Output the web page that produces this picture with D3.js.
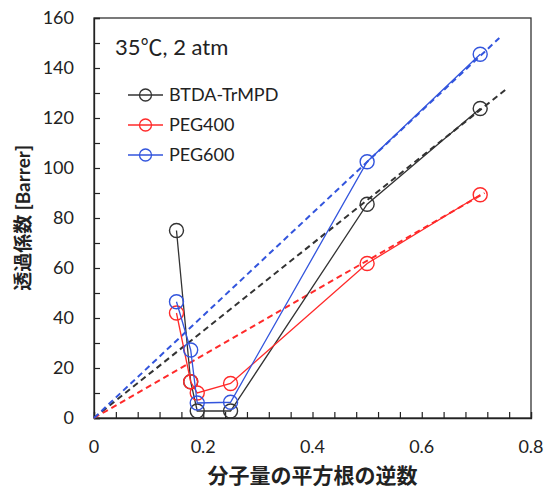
<!DOCTYPE html>
<html>
<head>
<meta charset="utf-8">
<script src="https://cdn.jsdelivr.net/npm/d3@7"></script>
<style>
  body { margin: 0; background: #fff; }
  text { font-family: Lato, "Noto Sans CJK JP", sans-serif; fill: #222; }
</style>
</head>
<body>
<div id="chart"></div>
<script>
// gas points: 1/sqrt(M) for CO2, O2, N2, CH4, He, H2
var gasX = [0.151, 0.177, 0.189, 0.25, 0.5, 0.707];

// permeability [Barrer] for each membrane
var btdaVals = [75, 14.5, 2.8, 2.8, 85.5, 123.8];
var peg400Vals = [42, 14.5, 10, 13.8, 61.8, 89.3];
var peg600Vals = [46.5, 27.2, 6, 6.3, 102.5, 145.5];

// dashed trend lines (start / end)
var btdaFitX = [0, 0.756], btdaFitY = [0, 131.8];
var peg400FitX = [0, 0.715], peg400FitY = [0, 90];
var peg600FitX = [0, 0.742], peg600FitY = [0, 152];

var seriesNames = ["BTDA-TrMPD", "PEG400", "PEG600"];
var seriesColors = ["#333333", "#ff2a2a", "#3355dd"];

var xTicks = [0, 0.2, 0.4, 0.6, 0.8];
var yTicks = [0, 20, 40, 60, 80, 100, 120, 140, 160];

var width = 546, height = 490;
var plotLeft = 94, plotRight = 531, plotTop = 18, plotBottom = 418;

var svg = d3.select("#chart").append("svg")
  .attr("width", width)
  .attr("height", height);

var xScale = d3.scaleLinear().domain([0, 0.8]).range([plotLeft, plotRight]);
var yScale = d3.scaleLinear().domain([0, 160]).range([plotBottom, plotTop]);

// frame
svg.append("rect")
  .attr("x", plotLeft).attr("y", plotTop)
  .attr("width", plotRight - plotLeft).attr("height", plotBottom - plotTop)
  .attr("fill", "none")
  .attr("stroke", "#333")
  .attr("stroke-width", 1.3);

// x axis: ticks every 0.04 pointing inward, labels every 0.2
var xAxis = d3.axisBottom(xScale)
  .tickValues(d3.range(0, 0.8001, 0.04))
  .tickSize(-6)
  .tickFormat("");
svg.append("g")
  .attr("transform", "translate(0," + plotBottom + ")")
  .call(xAxis)
  .call(function(g) {
    g.select(".domain").attr("stroke", "#222").attr("stroke-width", 1.3);
    g.selectAll(".tick line").attr("stroke", "#222").attr("stroke-width", 1.2);
  });

svg.append("g").selectAll("text")
  .data(xTicks).enter()
  .append("text")
  .attr("x", function(d) { return xScale(d); })
  .attr("y", 453)
  .attr("text-anchor", "middle")
  .attr("font-size", 18)
  .text(function(d) { return d === 0 ? "0" : d3.format(".1f")(d); });

// y axis: ticks every 10, labels every 20
var yAxis = d3.axisLeft(yScale)
  .tickValues(d3.range(0, 161, 10))
  .tickSize(-6)
  .tickFormat("");
svg.append("g")
  .attr("transform", "translate(" + plotLeft + ",0)")
  .call(yAxis)
  .call(function(g) {
    g.select(".domain").attr("stroke", "#222").attr("stroke-width", 1.3);
    g.selectAll(".tick line").attr("stroke", "#222").attr("stroke-width", 1.2);
  });

svg.append("g").selectAll("text")
  .data(yTicks).enter()
  .append("text")
  .attr("x", 74)
  .attr("y", function(d) { return yScale(d); })
  .attr("dy", "0.35em")
  .attr("text-anchor", "end")
  .attr("font-size", 18)
  .text(function(d) { return d; });

// axis titles
svg.append("text")
  .attr("x", (plotLeft + plotRight) / 2)
  .attr("y", 483)
  .attr("text-anchor", "middle")
  .attr("font-size", 21)
  .attr("font-weight", "bold")
  .text("分子量の平方根の逆数");

svg.append("text")
  .attr("transform", "translate(30," + ((plotTop + plotBottom) / 2) + ")rotate(-90)")
  .attr("text-anchor", "middle")
  .attr("font-size", 19)
  .attr("font-weight", "bold")
  .text("透過係数 [Barrer]");

// condition label
svg.append("text")
  .attr("x", 115)
  .attr("y", 55)
  .attr("font-size", 22)
  .text("35℃, 2 atm");

var line = d3.line()
  .x(function(d) { return xScale(d[0]); })
  .y(function(d) { return yScale(d[1]); });

var allVals = [btdaVals, peg400Vals, peg600Vals];
var fits = [[btdaFitX, btdaFitY], [peg400FitX, peg400FitY], [peg600FitX, peg600FitY]];

// dashed trend lines
fits.forEach(function(f, i) {
  svg.append("path")
    .datum(d3.zip(f[0], f[1]))
    .attr("d", line)
    .attr("fill", "none")
    .attr("stroke", seriesColors[i])
    .attr("stroke-width", 2)
    .attr("stroke-dasharray", "6,4");
});

// solid series with open circles
allVals.forEach(function(vals, i) {
  var pts = d3.zip(gasX, vals);
  svg.append("path")
    .datum(pts)
    .attr("d", line)
    .attr("fill", "none")
    .attr("stroke", seriesColors[i])
    .attr("stroke-width", 1.3);
  svg.append("g").selectAll("circle")
    .data(pts).enter()
    .append("circle")
    .attr("cx", function(d) { return xScale(d[0]); })
    .attr("cy", function(d) { return yScale(d[1]); })
    .attr("r", 7)
    .attr("fill", "none")
    .attr("stroke", seriesColors[i])
    .attr("stroke-width", 1.4);
});

// legend
var legend = svg.append("g");
seriesNames.forEach(function(name, i) {
  var ly = 95 + i * 30;
  legend.append("line")
    .attr("x1", 128).attr("x2", 163)
    .attr("y1", ly).attr("y2", ly)
    .attr("stroke", seriesColors[i])
    .attr("stroke-width", 1.3);
  legend.append("circle")
    .attr("cx", 145.5).attr("cy", ly).attr("r", 6)
    .attr("fill", "none")
    .attr("stroke", seriesColors[i])
    .attr("stroke-width", 1.3);
  legend.append("text")
    .attr("x", 169).attr("y", ly)
    .attr("dy", "0.35em")
    .attr("font-size", 18)
    .text(name);
});
</script>
</body>
</html>
